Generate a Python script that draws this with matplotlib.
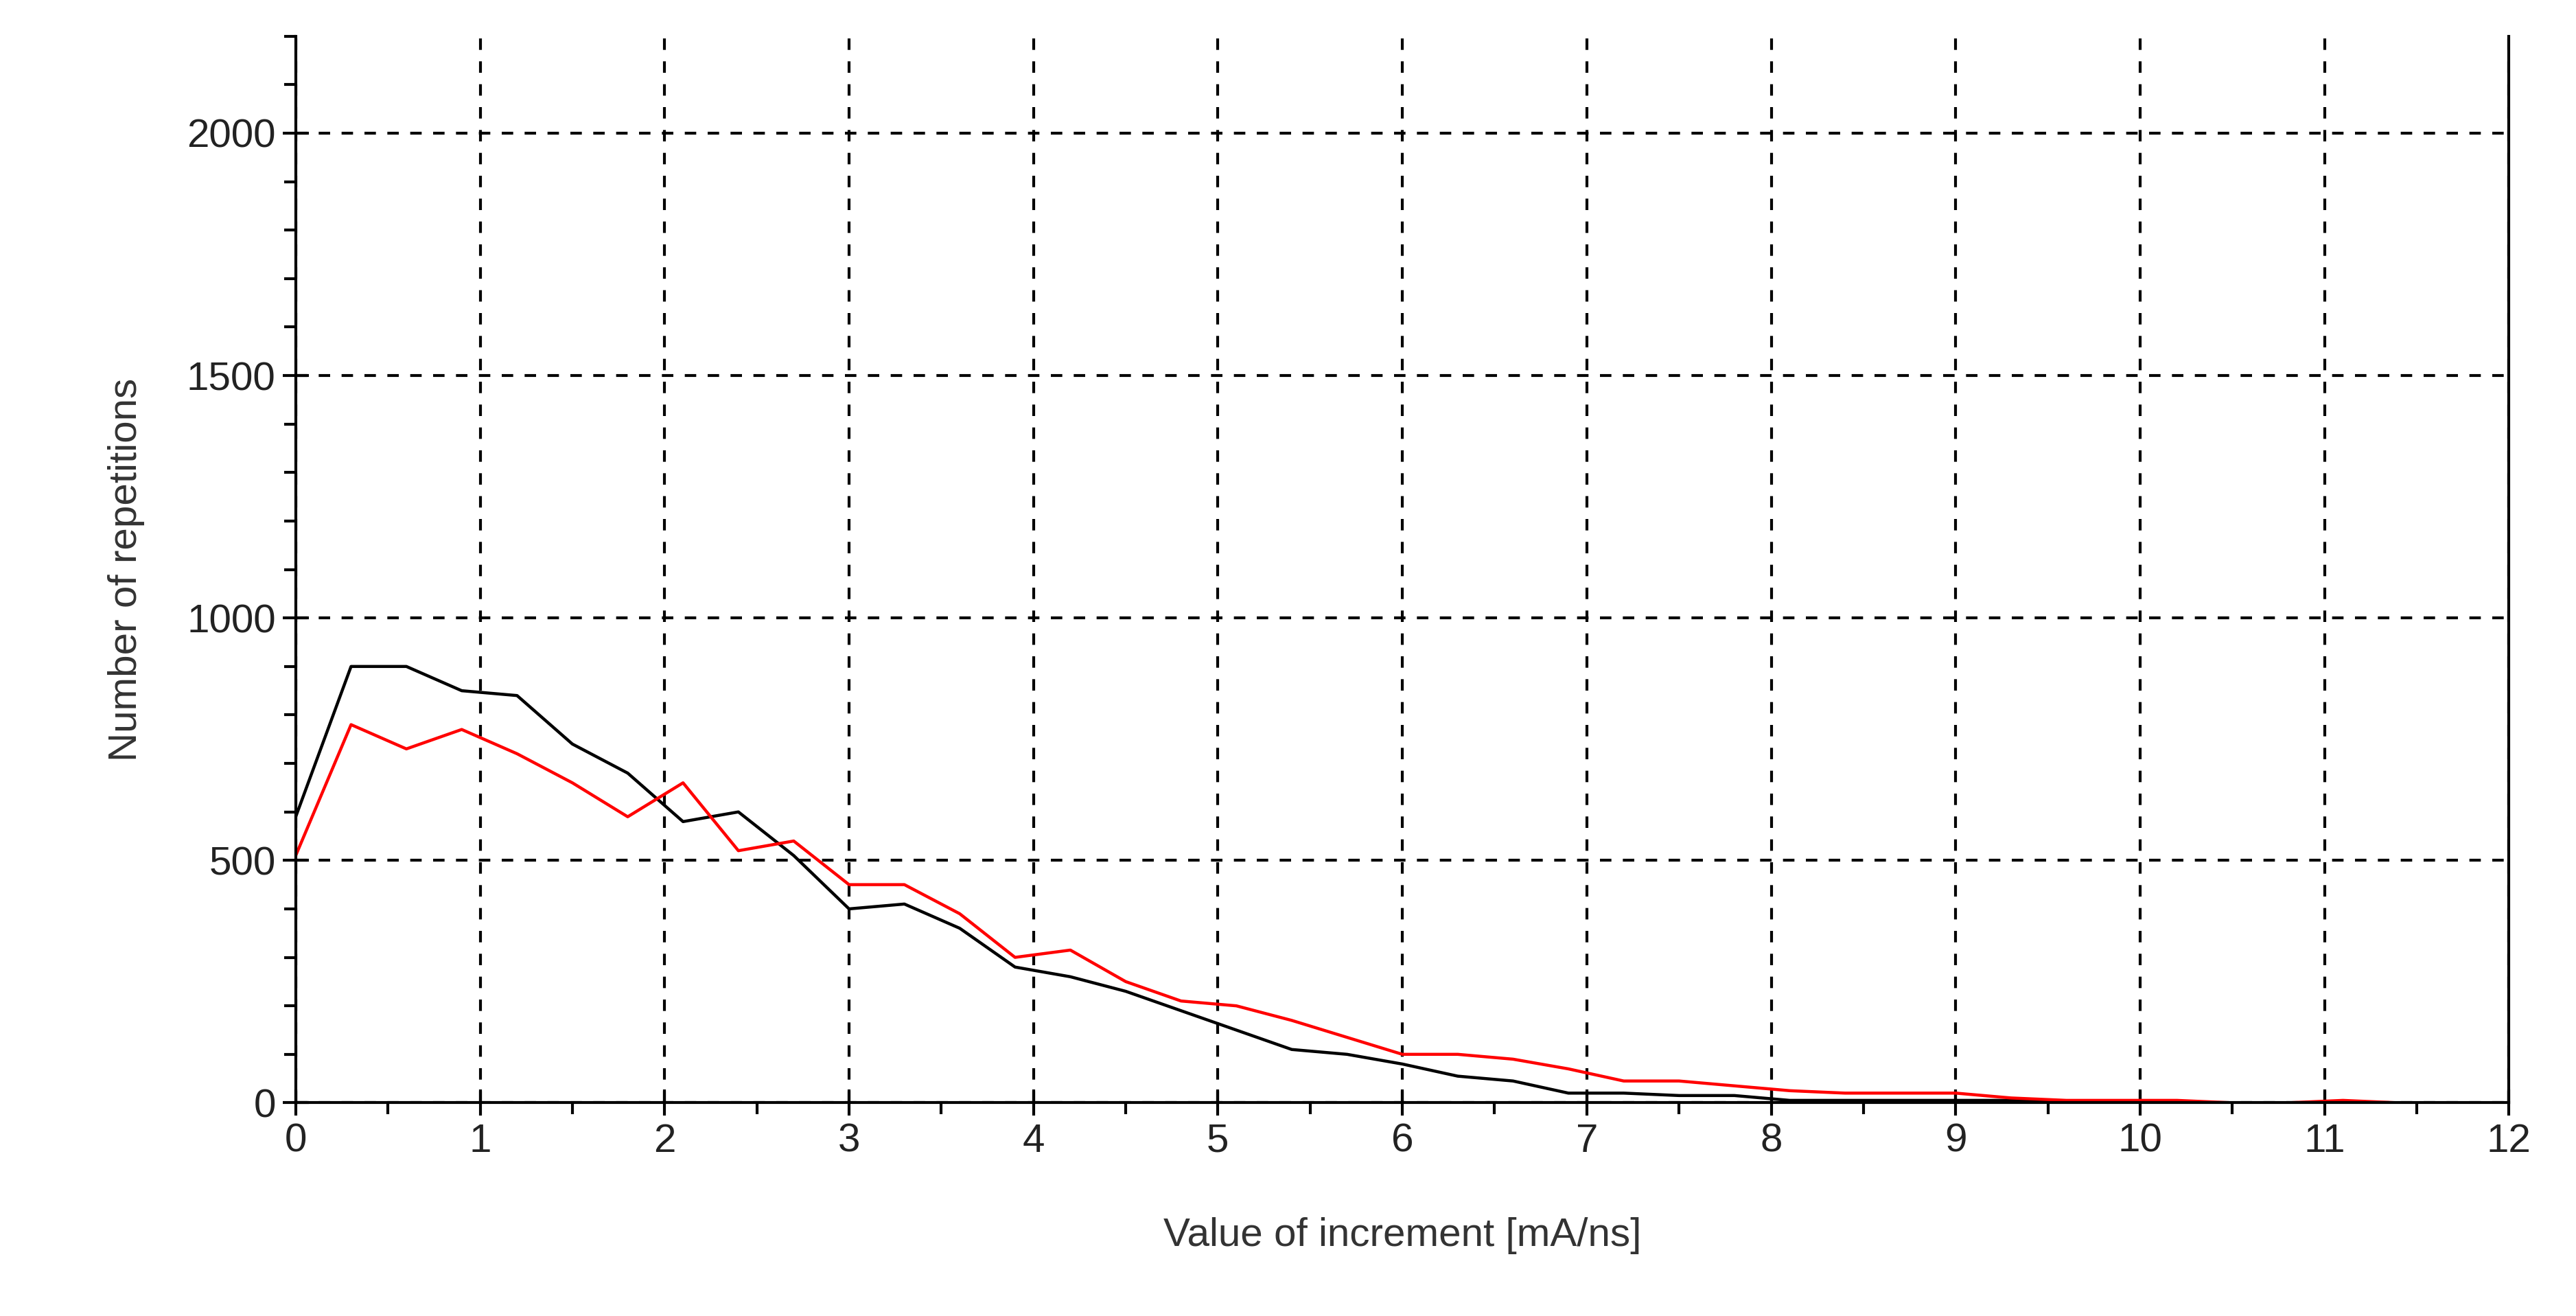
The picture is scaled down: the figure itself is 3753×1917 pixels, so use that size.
import matplotlib
matplotlib.use("Agg")
import matplotlib.pyplot as plt
import numpy as np
from matplotlib.ticker import MultipleLocator

x_black = [0,0.3,0.6,0.9,1.2,1.5,1.8,2.1,2.4,2.7,3.0,3.3,3.6,3.9,4.2,4.5,4.8,5.1,5.4,5.7,6.0,6.3,6.6,6.9,7.2,7.5,7.8,8.1,8.4,8.7,9.0,9.3,9.6]
y_black = [590,900,900,850,840,740,680,580,600,510,400,410,360,280,260,230,190,150,110,100,80,55,45,20,20,15,15,5,5,5,5,5,0]
x_red = [0,0.3,0.6,0.9,1.2,1.5,1.8,2.1,2.4,2.7,3.0,3.3,3.6,3.9,4.2,4.5,4.8,5.1,5.4,5.7,6.0,6.3,6.6,6.9,7.2,7.5,7.8,8.1,8.4,8.7,9.0,9.3,9.6,9.9,10.2,10.5,10.8,11.1,11.4]
y_red = [510,780,730,770,720,660,590,660,520,540,450,450,390,300,315,250,210,200,170,135,100,100,90,70,45,45,35,25,20,20,20,10,5,5,5,0,0,5,0]

plt.rcParams['font.family'] = ['Liberation Sans', 'DejaVu Sans']
fig = plt.figure(figsize=(18.765, 9.585), dpi=200)
ax = fig.add_axes([0.1148, 0.162, 0.8592, 0.8105])
ax.plot(x_black, y_black, color='black', lw=1.6)
ax.plot(x_red, y_red, color='red', lw=1.6)
ax.set_xlim(0, 12)
ax.set_ylim(0, 2200)
ax.set_xticks(range(0, 13))
ax.set_yticks([0, 500, 1000, 1500, 2000])
ax.xaxis.set_minor_locator(MultipleLocator(0.5))
ax.yaxis.set_minor_locator(MultipleLocator(100))
ax.tick_params(which='major', direction='inout', length=14, width=1.5, labelsize=21, colors='black', labelcolor='#222222')
ax.tick_params(which='minor', direction='out', length=6, width=1.5)
ax.grid(True, which='major', color='black', linestyle=(0, (4, 4)), lw=1.5)
ax.spines['top'].set_visible(False)
for s in ['left', 'bottom', 'right']:
    ax.spines[s].set_linewidth(1.5)
ax.set_xlabel('Value of increment [mA/ns]', fontsize=21, color='#333333', labelpad=30)
ax.set_ylabel('Number of repetitions', fontsize=21, color='#333333', labelpad=22)
fig.savefig('out.png', dpi=200)
